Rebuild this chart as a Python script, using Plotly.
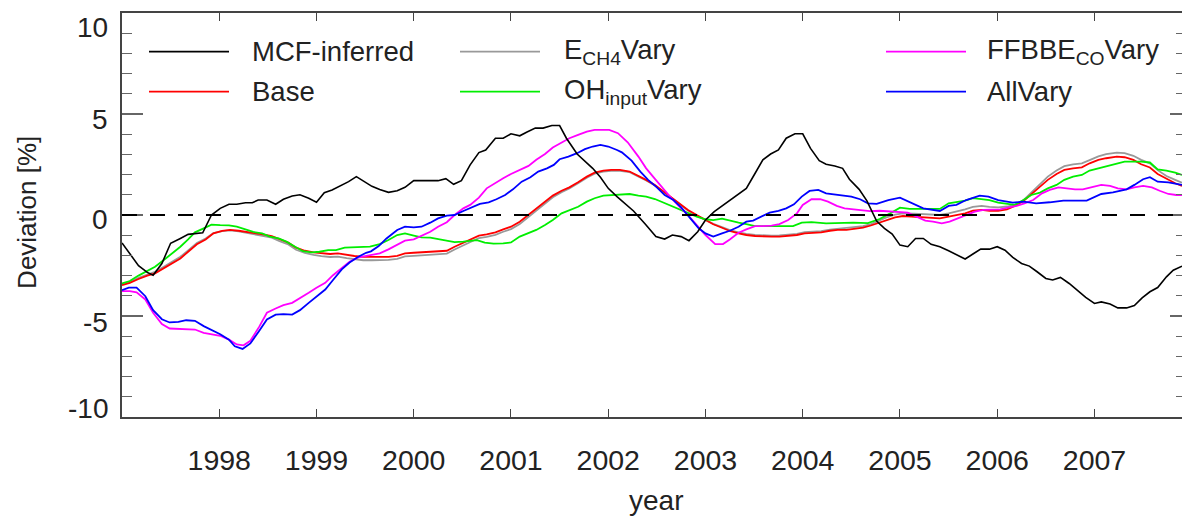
import plotly.graph_objects as go

# ---------------- data ----------------
x_mcf = [1997.00, 1997.08, 1997.17, 1997.26, 1997.32, 1997.41, 1997.50, 1997.60, 1997.68, 1997.83,
         1997.92, 1998.01, 1998.10, 1998.18, 1998.27, 1998.34, 1998.40, 1998.49, 1998.58, 1998.66,
         1998.75, 1998.83, 1998.92, 1999.00, 1999.08, 1999.16, 1999.24, 1999.33, 1999.41, 1999.50,
         1999.57, 1999.65, 1999.74, 1999.83, 1999.91, 2000.00, 2000.08, 2000.17, 2000.25, 2000.33,
         2000.41, 2000.49, 2000.58, 2000.67, 2000.74, 2000.84, 2000.92, 2001.00, 2001.09, 2001.16,
         2001.25, 2001.33, 2001.42, 2001.50, 2001.57, 2001.68, 2001.76, 2001.84, 2001.92, 2002.00,
         2002.09, 2002.22, 2002.26, 2002.38, 2002.49, 2002.58, 2002.66, 2002.75, 2002.83, 2002.92,
         2003.00, 2003.09, 2003.17, 2003.25, 2003.34, 2003.42, 2003.50, 2003.59, 2003.67, 2003.75,
         2003.83, 2003.92, 2004.00, 2004.08, 2004.17, 2004.24, 2004.33, 2004.41, 2004.48, 2004.58,
         2004.66, 2004.76, 2004.84, 2004.92, 2005.00, 2005.08, 2005.16, 2005.24, 2005.32, 2005.41,
         2005.50, 2005.58, 2005.67, 2005.75, 2005.83, 2005.92, 2006.00, 2006.08, 2006.16, 2006.25,
         2006.33, 2006.41, 2006.50, 2006.57, 2006.65, 2006.74, 2006.83, 2006.91, 2007.00, 2007.07,
         2007.16, 2007.24, 2007.33, 2007.41, 2007.49, 2007.57, 2007.65, 2007.74, 2007.81, 2007.90]
y_mcf = [-1.38, -1.93, -2.51, -2.84, -2.98, -2.40, -1.40, -1.16, -0.96, -0.88,
         0.00, 0.33, 0.53, 0.53, 0.61, 0.61, 0.74, 0.74, 0.53, 0.78,
         0.94, 1.00, 0.83, 0.63, 1.10, 1.24, 1.44, 1.65, 1.90, 1.65,
         1.42, 1.26, 1.12, 1.20, 1.37, 1.70, 1.70, 1.70, 1.70, 1.80,
         1.52, 1.70, 2.48, 3.09, 3.22, 3.80, 3.80, 4.02, 3.92, 4.10,
         4.30, 4.30, 4.43, 4.43, 3.80, 3.02, 2.68, 2.31, 1.87, 1.32,
         0.91, 0.40, 0.20, -0.45, -1.07, -1.19, -0.99, -1.07, -1.27, -0.83,
         -0.25, 0.17, 0.45, 0.74, 1.02, 1.32, 1.98, 2.73, 3.02, 3.22,
         3.80, 4.02, 4.02, 3.30, 2.69, 2.51, 2.43, 2.31, 1.77, 1.27,
         0.70, -0.30, -0.66, -0.94, -1.49, -1.57, -1.16, -1.16, -1.45, -1.57,
         -1.77, -1.98, -2.18, -1.93, -1.69, -1.69, -1.57, -1.74, -2.10, -2.40,
         -2.53, -2.81, -3.14, -3.22, -3.09, -3.39, -3.75, -4.08, -4.38, -4.30,
         -4.41, -4.60, -4.60, -4.48, -4.10, -3.80, -3.59, -3.06, -2.73, -2.53]

x_base = [1997.00, 1997.08, 1997.17, 1997.26, 1997.34, 1997.43, 1997.51, 1997.60, 1997.68, 1997.77,
          1997.86, 1997.94, 1998.03, 1998.11, 1998.20, 1998.28, 1998.37, 1998.45, 1998.54, 1998.62,
          1998.71, 1998.79, 1998.88, 1998.97, 1999.05, 1999.14, 1999.22, 1999.31, 1999.39, 1999.48,
          1999.57, 1999.65, 1999.74, 1999.83, 1999.91, 2000.00, 2000.08, 2000.17, 2000.25, 2000.34,
          2000.42, 2000.51, 2000.58, 2000.67, 2000.75, 2000.84, 2000.92, 2001.00, 2001.09, 2001.18,
          2001.26, 2001.35, 2001.43, 2001.52, 2001.60, 2001.69, 2001.78, 2001.86, 2001.95, 2002.03,
          2002.12, 2002.22, 2002.31, 2002.39, 2002.48, 2002.57, 2002.65, 2002.74, 2002.82, 2002.91,
          2003.00, 2003.08, 2003.17, 2003.25, 2003.34, 2003.42, 2003.51, 2003.59, 2003.68, 2003.76,
          2003.85, 2003.94, 2004.02, 2004.11, 2004.19, 2004.28, 2004.36, 2004.45, 2004.54, 2004.62,
          2004.70, 2004.78, 2004.86, 2004.95, 2005.03, 2005.14, 2005.24, 2005.32, 2005.41, 2005.50,
          2005.58, 2005.67, 2005.75, 2005.84, 2005.92, 2006.01, 2006.10, 2006.18, 2006.27, 2006.35,
          2006.44, 2006.52, 2006.61, 2006.69, 2006.78, 2006.87, 2006.95, 2007.04, 2007.12, 2007.23,
          2007.31, 2007.40, 2007.48, 2007.57, 2007.65, 2007.74, 2007.83, 2007.90]
y_base = [-3.47, -3.36, -3.17, -3.00, -2.89, -2.64, -2.40, -2.15, -1.82, -1.45,
          -1.21, -0.91, -0.79, -0.74, -0.78, -0.83, -0.88, -0.96, -1.04, -1.21,
          -1.37, -1.62, -1.77, -1.85, -1.90, -1.93, -1.90, -1.98, -2.03, -2.07,
          -2.07, -2.08, -2.07, -2.02, -1.90, -1.87, -1.85, -1.82, -1.79, -1.77,
          -1.57, -1.37, -1.21, -1.02, -0.96, -0.86, -0.71, -0.58, -0.33, 0.00,
          0.33, 0.66, 0.96, 1.20, 1.37, 1.62, 1.90, 2.10, 2.20, 2.23,
          2.23, 2.15, 1.95, 1.74, 1.49, 1.16, 0.91, 0.58, 0.25, 0.00,
          -0.25, -0.46, -0.63, -0.79, -0.91, -0.99, -1.04, -1.07, -1.07, -1.07,
          -1.04, -0.99, -0.91, -0.88, -0.86, -0.78, -0.74, -0.74, -0.69, -0.63,
          -0.52, -0.38, -0.25, -0.12, -0.05, -0.08, -0.12, -0.13, -0.17, -0.08,
          0.00, 0.08, 0.21, 0.25, 0.20, 0.21, 0.28, 0.45, 0.69, 1.02,
          1.37, 1.74, 2.03, 2.23, 2.31, 2.36, 2.56, 2.73, 2.81, 2.89,
          2.86, 2.73, 2.51, 2.35, 2.03, 1.79, 1.57, 1.44]

x_ech4 = x_base
y_ech4 = [-3.43, -3.31, -3.11, -2.93, -2.81, -2.56, -2.32, -2.07, -1.75, -1.39,
          -1.16, -0.90, -0.80, -0.76, -0.81, -0.88, -0.95, -1.04, -1.12, -1.29,
          -1.46, -1.72, -1.88, -1.97, -2.04, -2.08, -2.06, -2.14, -2.20, -2.24,
          -2.24, -2.24, -2.22, -2.17, -2.05, -2.02, -2.00, -1.97, -1.94, -1.91,
          -1.71, -1.50, -1.34, -1.14, -1.08, -0.98, -0.83, -0.70, -0.45, -0.11,
          0.22, 0.56, 0.88, 1.13, 1.31, 1.57, 1.85, 2.05, 2.15, 2.19,
          2.19, 2.12, 1.92, 1.71, 1.46, 1.13, 0.88, 0.55, 0.22, -0.03,
          -0.25, -0.44, -0.60, -0.75, -0.86, -0.94, -0.99, -1.02, -1.02, -1.01,
          -0.98, -0.93, -0.85, -0.82, -0.80, -0.72, -0.68, -0.67, -0.62, -0.55,
          -0.45, -0.28, -0.12, 0.02, 0.08, 0.07, 0.05, 0.03, 0.00, 0.08,
          0.17, 0.28, 0.40, 0.45, 0.40, 0.38, 0.42, 0.50, 0.74, 1.12,
          1.52, 1.90, 2.20, 2.42, 2.51, 2.56, 2.72, 2.90, 3.01, 3.09,
          3.06, 2.93, 2.73, 2.56, 2.22, 1.93, 1.74, 1.60]

x_oh = [1997.00, 1997.08, 1997.17, 1997.26, 1997.34, 1997.43, 1997.51, 1997.60, 1997.68, 1997.75,
        1997.84, 1997.92, 1998.01, 1998.10, 1998.18, 1998.27, 1998.35, 1998.44, 1998.52, 1998.61,
        1998.69, 1998.78, 1998.86, 1998.95, 1999.03, 1999.12, 1999.20, 1999.29, 1999.38, 1999.46,
        1999.55, 1999.65, 1999.74, 1999.83, 1999.91, 2000.00, 2000.08, 2000.17, 2000.25, 2000.34,
        2000.42, 2000.51, 2000.58, 2000.65, 2000.73, 2000.82, 2000.92, 2001.00, 2001.09, 2001.18,
        2001.26, 2001.35, 2001.43, 2001.52, 2001.60, 2001.69, 2001.78, 2001.86, 2001.95, 2002.03,
        2002.12, 2002.22, 2002.31, 2002.39, 2002.48, 2002.57, 2002.65, 2002.74, 2002.82, 2002.91,
        2003.00, 2003.08, 2003.17, 2003.25, 2003.34, 2003.42, 2003.51, 2003.59, 2003.69, 2003.80,
        2003.90, 2003.99, 2004.09, 2004.24, 2004.38, 2004.52, 2004.67, 2004.79, 2004.90, 2005.00,
        2005.10, 2005.20, 2005.31, 2005.41, 2005.50, 2005.58, 2005.67, 2005.75, 2005.84, 2005.92,
        2006.01, 2006.10, 2006.18, 2006.27, 2006.35, 2006.44, 2006.52, 2006.61, 2006.69, 2006.78,
        2006.87, 2006.95, 2007.04, 2007.12, 2007.23, 2007.31, 2007.40, 2007.48, 2007.57, 2007.65,
        2007.74, 2007.83, 2007.90]
y_oh = [-3.39, -3.27, -3.00, -2.78, -2.56, -2.23, -1.93, -1.57, -1.21, -0.86,
        -0.66, -0.48, -0.50, -0.51, -0.58, -0.71, -0.84, -0.91, -1.07, -1.16,
        -1.32, -1.57, -1.79, -1.85, -1.82, -1.74, -1.74, -1.62, -1.60, -1.59,
        -1.57, -1.44, -1.24, -0.99, -0.91, -1.02, -1.11, -1.12, -1.19, -1.24,
        -1.34, -1.32, -1.27, -1.24, -1.37, -1.42, -1.40, -1.36, -1.07, -0.91,
        -0.74, -0.50, -0.25, 0.08, 0.25, 0.41, 0.66, 0.83, 0.96, 0.99,
        1.01, 1.04, 0.96, 0.91, 0.79, 0.61, 0.45, 0.25, 0.08, -0.08,
        -0.21, -0.25, -0.18, -0.28, -0.38, -0.45, -0.55, -0.55, -0.55, -0.55,
        -0.55, -0.38, -0.35, -0.41, -0.38, -0.38, -0.40, -0.20, 0.08, 0.36,
        0.30, 0.30, 0.30, 0.30, 0.58, 0.63, 0.71, 0.83, 0.79, 0.74,
        0.61, 0.55, 0.50, 0.74, 0.99, 1.11, 1.32, 1.49, 1.74, 1.90,
        1.98, 2.20, 2.31, 2.40, 2.56, 2.64, 2.64, 2.64, 2.60, 2.26,
        2.20, 2.10, 1.98]

x_ffbbe = [1997.00, 1997.08, 1997.15, 1997.24, 1997.32, 1997.41, 1997.49, 1997.58, 1997.66, 1997.75,
           1997.84, 1997.92, 1998.01, 1998.10, 1998.18, 1998.25, 1998.32, 1998.41, 1998.49, 1998.58,
           1998.66, 1998.75, 1998.83, 1998.92, 1999.00, 1999.09, 1999.17, 1999.26, 1999.34, 1999.43,
           1999.51, 1999.60, 1999.65, 1999.74, 1999.83, 1999.91, 2000.00, 2000.08, 2000.17, 2000.25,
           2000.34, 2000.42, 2000.51, 2000.58, 2000.67, 2000.75, 2000.84, 2000.92, 2001.00, 2001.09,
           2001.18, 2001.26, 2001.35, 2001.43, 2001.52, 2001.60, 2001.69, 2001.78, 2001.86, 2001.95,
           2002.01, 2002.10, 2002.20, 2002.31, 2002.39, 2002.48, 2002.57, 2002.65, 2002.74, 2002.82,
           2002.91, 2003.00, 2003.10, 2003.18, 2003.25, 2003.34, 2003.42, 2003.51, 2003.59, 2003.68,
           2003.76, 2003.85, 2003.94, 2004.00, 2004.09, 2004.18, 2004.26, 2004.35, 2004.43, 2004.52,
           2004.60, 2004.69, 2004.79, 2004.96, 2005.08, 2005.17, 2005.26, 2005.34, 2005.43, 2005.51,
           2005.60, 2005.68, 2005.77, 2005.86, 2005.94, 2006.03, 2006.11, 2006.20, 2006.28, 2006.37,
           2006.46, 2006.54, 2006.63, 2006.71, 2006.80, 2006.88, 2006.97, 2007.07, 2007.16, 2007.24,
           2007.33, 2007.41, 2007.50, 2007.59, 2007.67, 2007.76, 2007.84, 2007.90]
y_ffbbe = [-3.77, -3.77, -3.83, -4.18, -4.84, -5.40, -5.62, -5.64, -5.64, -5.67,
           -5.83, -5.90, -5.98, -6.17, -6.41, -6.45, -6.23, -5.54, -4.84, -4.63,
           -4.46, -4.35, -4.13, -3.85, -3.60, -3.36, -2.98, -2.61, -2.31, -2.10,
           -2.02, -1.95, -1.90, -1.70, -1.49, -1.27, -1.21, -1.04, -0.83, -0.58,
           -0.36, 0.00, 0.33, 0.50, 0.86, 1.32, 1.60, 1.82, 2.03, 2.23,
           2.43, 2.73, 3.02, 3.34, 3.59, 3.80, 3.97, 4.13, 4.21, 4.21,
           4.21, 4.05, 3.60, 2.89, 2.31, 1.79, 1.27, 0.83, 0.38, 0.00,
           -0.50, -0.99, -1.44, -1.44, -1.21, -0.88, -0.71, -0.55, -0.55, -0.53,
           -0.45, -0.25, 0.08, 0.50, 0.78, 0.78, 0.66, 0.45, 0.33, 0.28,
           0.21, 0.19, 0.21, 0.17, 0.12, -0.08, -0.28, -0.33, -0.41, -0.33,
           -0.17, 0.00, 0.17, 0.25, 0.25, 0.28, 0.36, 0.45, 0.58, 0.74,
           1.07, 1.24, 1.37, 1.32, 1.27, 1.27, 1.36, 1.49, 1.44, 1.32,
           1.27, 1.37, 1.44, 1.37, 1.20, 1.04, 0.99, 0.99]

x_all = [1997.00, 1997.07, 1997.15, 1997.24, 1997.32, 1997.41, 1997.49, 1997.58, 1997.66, 1997.75,
         1997.84, 1997.92, 1998.01, 1998.10, 1998.16, 1998.24, 1998.32, 1998.41, 1998.49, 1998.58,
         1998.66, 1998.75, 1998.83, 1998.92, 1999.00, 1999.09, 1999.17, 1999.26, 1999.34, 1999.43,
         1999.51, 1999.56, 1999.64, 1999.72, 1999.83, 1999.91, 2000.00, 2000.08, 2000.17, 2000.25,
         2000.34, 2000.42, 2000.51, 2000.60, 2000.68, 2000.77, 2000.85, 2000.94, 2001.02, 2001.11,
         2001.20, 2001.28, 2001.37, 2001.44, 2001.50, 2001.59, 2001.68, 2001.76, 2001.84, 2001.92,
         2002.00, 2002.09, 2002.14, 2002.24, 2002.33, 2002.41, 2002.50, 2002.58, 2002.67, 2002.75,
         2002.84, 2002.93, 2003.00, 2003.08, 2003.17, 2003.25, 2003.34, 2003.42, 2003.49, 2003.58,
         2003.66, 2003.75, 2003.83, 2003.91, 2003.99, 2004.07, 2004.16, 2004.24, 2004.33, 2004.42,
         2004.50, 2004.59, 2004.67, 2004.76, 2004.88, 2005.00, 2005.12, 2005.24, 2005.41, 2005.50,
         2005.58, 2005.68, 2005.82, 2005.91, 2006.01, 2006.16, 2006.27, 2006.40, 2006.54, 2006.68,
         2006.92, 2007.07, 2007.19, 2007.33, 2007.41, 2007.50, 2007.57, 2007.65, 2007.76, 2007.90]
y_all = [-3.72, -3.60, -3.60, -4.02, -4.71, -5.16, -5.32, -5.29, -5.21, -5.24,
         -5.50, -5.67, -5.90, -6.17, -6.50, -6.63, -6.36, -5.74, -5.17, -4.93,
         -4.91, -4.93, -4.71, -4.35, -4.02, -3.69, -3.22, -2.69, -2.35, -2.07,
         -1.87, -1.80, -1.54, -1.16, -0.74, -0.58, -0.61, -0.58, -0.38, -0.17,
         -0.03, 0.00, 0.20, 0.38, 0.55, 0.63, 0.78, 0.99, 1.27, 1.65,
         1.87, 2.15, 2.31, 2.48, 2.76, 2.89, 3.06, 3.26, 3.39, 3.47,
         3.39, 3.22, 3.10, 2.69, 2.15, 1.74, 1.37, 0.99, 0.74, 0.38,
         -0.12, -0.66, -0.91, -1.07, -0.91, -0.78, -0.58, -0.33, -0.28, -0.08,
         0.12, 0.20, 0.33, 0.53, 0.91, 1.19, 1.24, 1.07, 1.02, 0.99,
         0.91, 0.78, 0.58, 0.55, 0.74, 0.86, 0.58, 0.33, 0.20, 0.45,
         0.50, 0.74, 0.96, 0.91, 0.74, 0.61, 0.66, 0.58, 0.63, 0.71,
         0.71, 1.04, 1.12, 1.27, 1.49, 1.77, 1.87, 1.65, 1.62, 1.49]

x_ticks = [1998, 1999, 2000, 2001, 2002, 2003, 2004, 2005, 2006, 2007]
y_ticks = [-10, -5, 0, 5, 10]
y_tick_text = ["-10", "-5", "0", "5", "10"]

series = [
    ("MCF-inferred", x_mcf, y_mcf, "#000000", 1.6),
    ("Base", x_base, y_base, "#ff0000", 1.8),
    ("E<sub>CH4</sub>Vary", x_ech4, y_ech4, "#999999", 1.8),
    ("OH<sub>input</sub>Vary", x_oh, y_oh, "#00ee00", 1.8),
    ("FFBBE<sub>CO</sub>Vary", x_ffbbe, y_ffbbe, "#ff00ff", 1.8),
    ("AllVary", x_all, y_all, "#0000ff", 1.8),
]
draw_order = [2, 1, 3, 4, 5, 0]

FONT = "Liberation Sans, Arial, sans-serif"
TXT = "#222222"

fig = go.Figure()
for i in draw_order:
    name, xs, ys, col, w = series[i]
    fig.add_trace(go.Scatter(x=xs, y=ys, mode="lines", name=name,
                             line=dict(color=col, width=w), showlegend=False))

# zero reference line
fig.add_shape(type="line", xref="paper", x0=0, x1=1, yref="y", y0=0, y1=0,
              line=dict(color="#000000", width=2, dash="15px,13px"))

# manual legend (3 columns x 2 rows)
legend_layout = [  # (series index, line x0 px, line x1 px, text x px, row y px)
    (0, 149, 229, 250, 52), (1, 149, 229, 250, 92),
    (2, 460, 540, 562, 52), (3, 460, 540, 562, 92),
    (4, 886, 966, 985, 52), (5, 886, 966, 985, 92),
]
PL, PW, PB, PH = 122.0, 1060.0, 416.7, 403.2
for idx, lx0, lx1, tx, py in legend_layout:
    name, _, _, col, w = series[idx]
    yp = (PB - py) / PH
    fig.add_shape(type="line", xref="paper", yref="paper",
                  x0=(lx0 - PL) / PW, x1=(lx1 - PL) / PW, y0=yp, y1=yp,
                  line=dict(color=col, width=1.6))
    fig.add_annotation(xref="paper", yref="paper", x=(tx - PL) / PW, y=yp,
                       xanchor="left", yanchor="middle", text=name, showarrow=False,
                       font=dict(family=FONT, size=27.5, color=TXT))

# y tick labels (placed like the original, end labels pulled inside the frame)
y_label_px = [408, 322, 220, 120, 28]
for txt, py in zip(y_tick_text, y_label_px):
    fig.add_annotation(xref="paper", yref="paper", x=(110 - PL) / PW, y=(PB - py) / PH,
                       xanchor="right", yanchor="middle", text=txt, showarrow=False,
                       font=dict(family=FONT, size=28, color=TXT))

# axis titles
fig.add_annotation(xref="paper", yref="paper", x=(656 - PL) / PW, y=(PB - 500) / PH,
                   text="year", showarrow=False, xanchor="center", yanchor="middle",
                   font=dict(family=FONT, size=28, color=TXT))
fig.add_annotation(xref="paper", yref="paper", x=(27 - PL) / PW, y=(PB - 213) / PH,
                   text="Deviation [%]", showarrow=False, textangle=-90,
                   xanchor="center", yanchor="middle",
                   font=dict(family=FONT, size=26, color=TXT))

axis_col = "#444444"
fig.update_layout(
    autosize=True,
    height=520,
    margin=dict(l=122, r=0, t=13, b=103),
    paper_bgcolor="white",
    plot_bgcolor="white",
    showlegend=False,
    font=dict(family=FONT, size=27, color=TXT),
    xaxis=dict(range=[1997, 2007.9], tickvals=x_ticks, ticktext=[str(v) for v in x_ticks],
               ticks="inside", ticklen=8, tickwidth=1, tickcolor=axis_col,
               showline=True, linecolor=axis_col, linewidth=1.5, mirror="ticks",
               showgrid=False, zeroline=False, ticklabelstandoff=17,
               tickfont=dict(family=FONT, size=28.5, color=TXT)),
    yaxis=dict(range=[-10, 10], tickvals=y_ticks, showticklabels=False,
               ticks="inside", ticklen=21, tickwidth=1.5, tickcolor="#666666",
               minor=dict(dtick=1, tick0=0, ticks="inside", ticklen=10, tickwidth=1.2,
                          tickcolor="#666666", showgrid=False),
               showline=True, linecolor=axis_col, linewidth=1.5, mirror=False,
               showgrid=False, zeroline=False),
    yaxis2=dict(range=[-10, 10], overlaying="y", side="right", anchor="x",
                tickvals=y_ticks, showticklabels=False,
                ticks="inside", ticklen=12, tickwidth=1.5, tickcolor="#666666",
                minor=dict(dtick=1, tick0=0, ticks="inside", ticklen=6, tickwidth=1.2,
                           tickcolor="#666666", showgrid=False),
                showline=False, showgrid=False, zeroline=False),
)
# invisible trace to activate the right-hand tick axis
fig.add_trace(go.Scatter(x=[1997], y=[0], yaxis="y2", mode="lines",
                         line=dict(width=0), hoverinfo="skip", showlegend=False))

fig.write_html("out.html")
